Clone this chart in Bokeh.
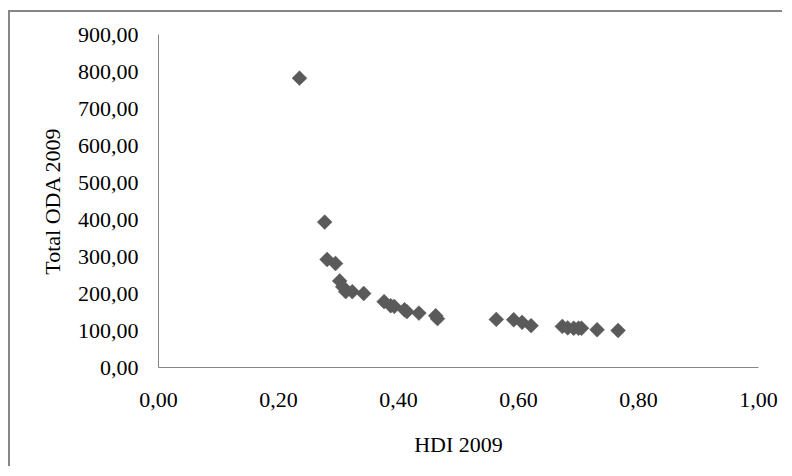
from bokeh.plotting import figure
from bokeh.models import Range1d, FixedTicker, CustomJSTickFormatter, ColumnDataSource, Spacer
from bokeh.layouts import column, row
from bokeh.embed import file_html
from bokeh.resources import INLINE
import math

# Data
hdi = [0.235, 0.277, 0.281, 0.295, 0.302, 0.307, 0.312, 0.323, 0.342, 0.376,
       0.387, 0.393, 0.410, 0.414, 0.434, 0.462, 0.465, 0.563, 0.592, 0.606,
       0.621, 0.673, 0.682, 0.692, 0.700, 0.705, 0.731, 0.766]
oda = [782, 393, 292, 281, 234, 218, 205, 205, 200, 178,
       167, 165, 156, 151, 147, 140, 132, 130, 129, 122,
       113, 111, 107, 106, 106, 106, 102, 100]
x_ticks = [0.0, 0.2, 0.4, 0.6, 0.8, 1.0]
y_ticks = [0, 100, 200, 300, 400, 500, 600, 700, 800, 900]
x_title = "HDI 2009"
y_title = "Total ODA 2009"

FONT = "Liberation Serif"
AXIS = "#868686"

p = figure(width=774, height=456, output_backend="svg", toolbar_location=None,
           x_range=Range1d(0, 1), y_range=Range1d(0, 900),
           min_border_left=148, min_border_right=26, min_border_top=22, min_border_bottom=101)
p.styles = {"border-top": "2px solid #868686", "border-left": "2px solid #868686"}
p.outline_line_color = None
p.grid.grid_line_color = None
p.background_fill_color = "white"
p.border_fill_color = "white"

src = ColumnDataSource(dict(x=hdi, y=oda))
p.scatter("x", "y", source=src, marker="square", size=10.5, angle=math.pi / 4,
          fill_color="#5a5a5a", line_color="#5a5a5a", line_width=0.5)

fmt = CustomJSTickFormatter(code="return tick.toFixed(2).replace('.', ',');")
p.xaxis.ticker = FixedTicker(ticks=x_ticks)
p.yaxis.ticker = FixedTicker(ticks=y_ticks)
p.xaxis.formatter = fmt
p.yaxis.formatter = fmt
for ax in (p.xaxis[0], p.yaxis[0]):
    ax.axis_line_color = AXIS
    ax.axis_line_width = 1
    ax.major_tick_line_color = None
    ax.minor_tick_line_color = None
    ax.major_label_text_font = FONT
    ax.major_label_text_font_size = "22px"
    ax.major_label_text_color = "black"
    ax.axis_label_text_font = FONT
    ax.axis_label_text_font_size = "22px"
    ax.axis_label_text_font_style = "normal"
    ax.axis_label_text_color = "black"

p.xaxis.axis_label = x_title
p.yaxis.axis_label = y_title
p.xaxis.major_label_standoff = 19
p.yaxis.major_label_standoff = 14
p.xaxis.axis_label_standoff = 22
p.yaxis.axis_label_standoff = 10

layout = column(Spacer(width=784, height=10),
                row(Spacer(width=8, height=458), p))

open("out.html", "w").write(file_html(layout, INLINE))
